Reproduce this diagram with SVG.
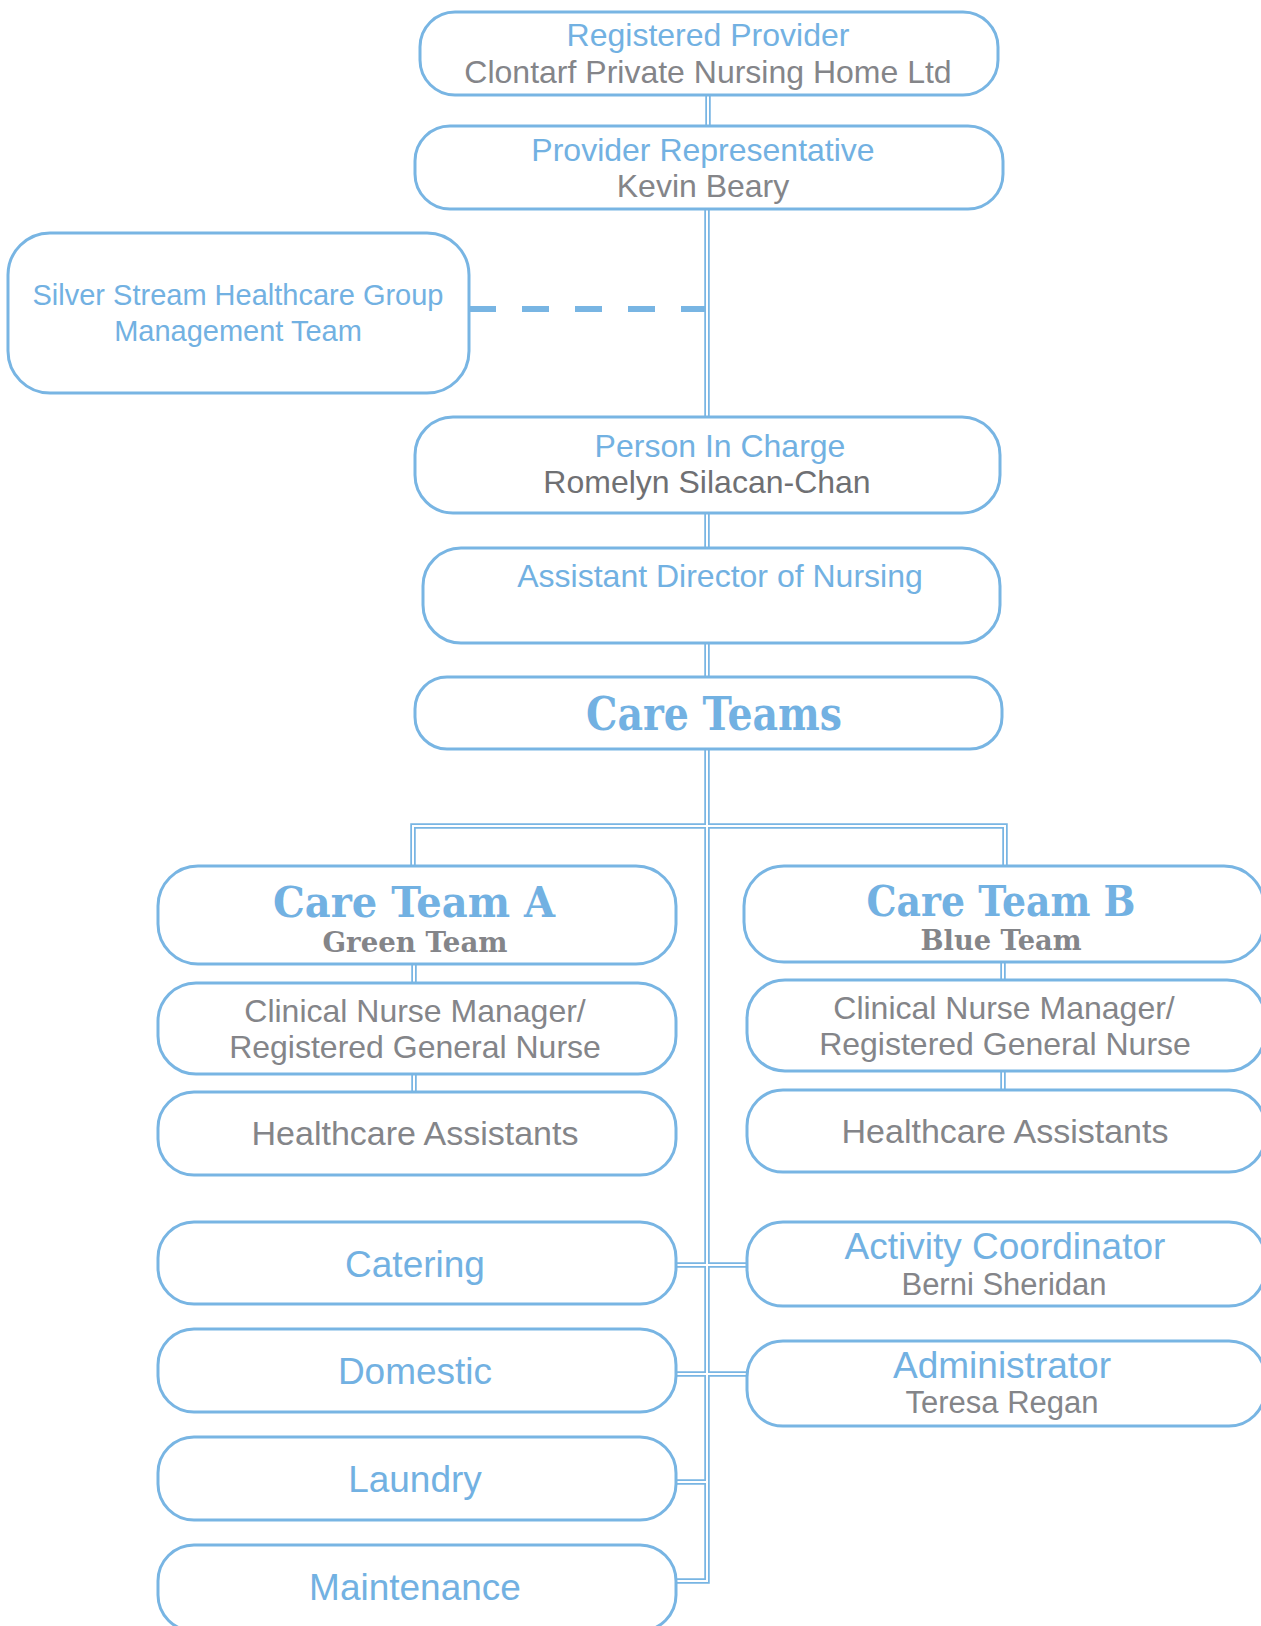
<svg xmlns="http://www.w3.org/2000/svg" width="1261" height="1626" viewBox="0 0 1261 1626">
<style>
.box{fill:#fff;stroke:#78b5e3;stroke-width:3}
.t{font-family:"Liberation Sans",Arial,sans-serif;text-anchor:middle}
.b{fill:#72b1e2}
.g{fill:#848589}
.dk{fill:#6f7073}
.d{font-family:"DejaVu Serif","Liberation Serif",serif;font-weight:bold;text-anchor:middle}
.co{fill:none;stroke:#78b5e3;stroke-width:5.5}
.ci{fill:none;stroke:#fff;stroke-width:2}
.dash{fill:none;stroke:#78b5e3;stroke-width:6;stroke-dasharray:27 26}
</style>
<rect width="1261" height="1626" fill="#fff"/>
<g id="connectors">
<path class="dash" d="M469 309 H705"/>
<path class="co" d="M708 95 V126"/><path class="ci" d="M708 95 V126"/>
<path class="co" d="M707 209 V1581 H676"/>
<path class="co" d="M413 866 V826 H1005 V866"/>
<path class="co" d="M414 964 V983 M414 1074 V1092 M1003 962 V980 M1003 1071 V1090"/>
<path class="co" d="M676 1265 H747 M676 1374 H747 M676 1482 H707"/>
<path class="ci" d="M707 209 V1581 H676"/>
<path class="ci" d="M413 866 V826 H1005 V866"/>
<path class="ci" d="M414 964 V983 M414 1074 V1092 M1003 962 V980 M1003 1071 V1090"/>
<path class="ci" d="M676 1265 H747 M676 1374 H747 M676 1482 H707"/>
</g>
<g id="registered-provider">
<rect class="box" x="420" y="12" width="578" height="83" rx="35"/>
<text class="t b" x="708" y="46" font-size="32">Registered Provider</text>
<text class="t g" x="708" y="83" font-size="32">Clontarf Private Nursing Home Ltd</text>
</g>
<g id="provider-representative">
<rect class="box" x="415" y="126" width="588" height="83" rx="35"/>
<text class="t b" x="703" y="161" font-size="32">Provider Representative</text>
<text class="t g" x="703" y="197" font-size="32">Kevin Beary</text>
</g>
<g id="silver-stream">
<rect class="box" x="8" y="233" width="461" height="160" rx="42"/>
<text class="t b" x="238" y="305" font-size="29">Silver Stream Healthcare Group</text>
<text class="t b" x="238" y="341" font-size="29">Management Team</text>
</g>
<g id="person-in-charge">
<rect class="box" x="415" y="417" width="585" height="96" rx="38"/>
<text class="t b" x="720" y="457" font-size="32">Person In Charge</text>
<text class="t dk" x="707" y="493" font-size="32">Romelyn Silacan-Chan</text>
</g>
<g id="adon">
<rect class="box" x="423" y="548" width="577" height="95" rx="38"/>
<text class="t b" x="720" y="587" font-size="32">Assistant Director of Nursing</text>
</g>
<g id="care-teams">
<rect class="box" x="415" y="677" width="587" height="72" rx="32"/>
<text class="d b" x="714" y="730" font-size="46" textLength="256" lengthAdjust="spacingAndGlyphs">Care Teams</text>
</g>
<g id="care-team-a">
<rect class="box" x="158" y="866" width="518" height="98" rx="40"/>
<text class="d b" x="414" y="917" font-size="42" textLength="282" lengthAdjust="spacingAndGlyphs">Care Team A</text>
<text class="d g" x="415" y="952" font-size="28" textLength="185" lengthAdjust="spacingAndGlyphs">Green Team</text>
</g>
<g id="care-team-b">
<rect class="box" x="744" y="866" width="520" height="96" rx="40"/>
<text class="d b" x="1001" y="916" font-size="42" textLength="269" lengthAdjust="spacingAndGlyphs">Care Team B</text>
<text class="d g" x="1001" y="950" font-size="28" textLength="161" lengthAdjust="spacingAndGlyphs">Blue Team</text>
</g>
<g id="cnm-a">
<rect class="box" x="158" y="983" width="518" height="91" rx="38"/>
<text class="t g" x="415" y="1022" font-size="32">Clinical Nurse Manager/</text>
<text class="t g" x="415" y="1058" font-size="32">Registered General Nurse</text>
</g>
<g id="hca-a">
<rect class="box" x="158" y="1092" width="518" height="83" rx="36"/>
<text class="t g" x="415" y="1145" font-size="34">Healthcare Assistants</text>
</g>
<g id="cnm-b">
<rect class="box" x="747" y="980" width="518" height="91" rx="38"/>
<text class="t g" x="1004" y="1019" font-size="32">Clinical Nurse Manager/</text>
<text class="t g" x="1005" y="1055" font-size="32">Registered General Nurse</text>
</g>
<g id="hca-b">
<rect class="box" x="747" y="1090" width="518" height="82" rx="36"/>
<text class="t g" x="1005" y="1143" font-size="34">Healthcare Assistants</text>
</g>
<g id="catering">
<rect class="box" x="158" y="1222" width="518" height="82" rx="36"/>
<text class="t b" x="415" y="1277" font-size="37">Catering</text>
</g>
<g id="domestic">
<rect class="box" x="158" y="1329" width="518" height="83" rx="36"/>
<text class="t b" x="415" y="1384" font-size="37">Domestic</text>
</g>
<g id="laundry">
<rect class="box" x="158" y="1437" width="518" height="83" rx="36"/>
<text class="t b" x="415" y="1492" font-size="37">Laundry</text>
</g>
<g id="maintenance">
<rect class="box" x="158" y="1545" width="518" height="86" rx="36"/>
<text class="t b" x="415" y="1600" font-size="37">Maintenance</text>
</g>
<g id="activity-coordinator">
<rect class="box" x="747" y="1222" width="518" height="84" rx="36"/>
<text class="t b" x="1005" y="1259" font-size="37">Activity Coordinator</text>
<text class="t g" x="1004" y="1295" font-size="31">Berni Sheridan</text>
</g>
<g id="administrator">
<rect class="box" x="747" y="1341" width="518" height="85" rx="36"/>
<text class="t b" x="1002" y="1378" font-size="37">Administrator</text>
<text class="t g" x="1002" y="1413" font-size="31">Teresa Regan</text>
</g>
</svg>
